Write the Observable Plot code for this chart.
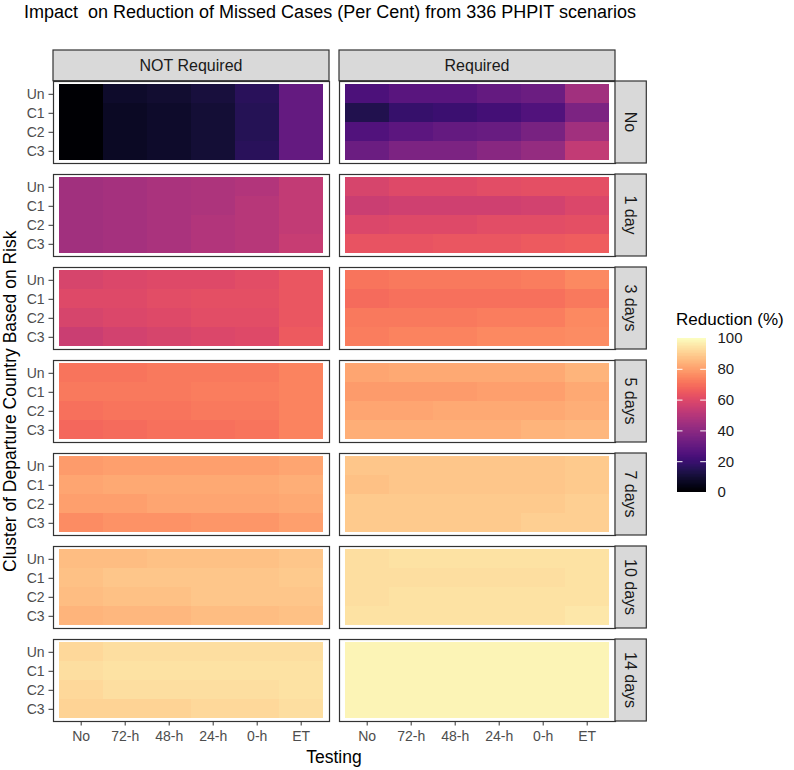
<!DOCTYPE html>
<html>
<head>
<meta charset="utf-8">
<script src="https://cdn.jsdelivr.net/npm/d3@7"></script>
<script src="https://cdn.jsdelivr.net/npm/@observablehq/plot@0.6"></script>
<style>
  html, body { margin: 0; padding: 0; background: #fff; }
  #wrap { position: relative; width: 794px; height: 770px; font-family: "Liberation Sans", Arial, sans-serif; }
  #main, #legend { position: absolute; }
  #main { left: 0; top: 0; }
  #legend { left: 660px; top: 300px; }
</style>
</head>
<body>
<div id="wrap"><div id="main"></div><div id="legend"></div></div>
<script>
// ---- categories ----
const testing = ["No", "72-h", "48-h", "24-h", "0-h", "ET"];
const clusters = ["Un", "C1", "C2", "C3"];
const protocols = ["NOT Required", "Required"];
const quarantine = ["No", "1 day", "3 days", "5 days", "7 days", "10 days", "14 days"];
const legendTicks = [0, 20, 40, 60, 80, 100];

// ---- values (rows = Un, C1, C2, C3; columns = testing) ----
// NOT Required
const notReq_No   = [[0, 8, 9, 11, 16, 30], [0, 7, 8, 10, 15, 30], [0, 7, 8, 10, 15, 30], [0, 7, 8, 10, 16, 30]];
const notReq_1d   = [[45, 46, 47, 48, 49, 53], [45, 46, 47, 48, 50, 53], [45, 46, 47, 49, 50, 53], [45, 46, 47, 49, 50, 54]];
const notReq_3d   = [[58, 59, 60, 60, 61, 64], [60, 60, 61, 62, 62, 64], [58, 59, 60, 61, 61, 64], [55, 57, 58, 59, 60, 65]];
const notReq_5d   = [[71, 71, 72, 72, 72, 74], [72, 72, 72, 73, 73, 74], [70, 71, 71, 72, 72, 74], [68, 69, 70, 70, 71, 74]];
const notReq_7d   = [[79, 80, 80, 80, 80, 81], [81, 82, 82, 82, 82, 83], [80, 80, 81, 81, 81, 82], [76, 77, 77, 78, 78, 80]];
const notReq_10d  = [[86, 86, 87, 87, 87, 88], [87, 88, 88, 88, 88, 89], [86, 87, 87, 88, 88, 88], [84, 85, 85, 86, 86, 87]];
const notReq_14d  = [[92, 93, 93, 93, 93, 93], [93, 94, 94, 94, 94, 94], [92, 93, 93, 93, 93, 94], [91, 91, 91, 92, 92, 93]];
// Required
const req_No      = [[24, 27, 27, 30, 32, 45], [14, 19, 20, 22, 25, 36], [25, 28, 30, 31, 35, 45], [32, 36, 36, 39, 42, 53]];
const req_1d      = [[58, 60, 60, 61, 62, 62], [55, 56, 56, 56, 57, 59], [59, 60, 60, 61, 61, 62], [63, 63, 64, 64, 65, 66]];
const req_3d      = [[71, 72, 72, 72, 73, 75], [69, 70, 70, 70, 70, 72], [72, 72, 72, 73, 73, 75], [73, 74, 74, 75, 75, 76]];
const req_5d      = [[81, 82, 82, 82, 82, 84], [79, 79, 79, 80, 80, 82], [81, 81, 82, 82, 82, 83], [83, 83, 83, 83, 84, 85]];
const req_7d      = [[88, 88, 88, 88, 88, 89], [87, 88, 88, 88, 88, 89], [89, 89, 89, 89, 89, 90], [89, 89, 89, 89, 90, 90]];
const req_10d     = [[93, 94, 94, 94, 94, 94], [93, 93, 93, 93, 93, 94], [93, 94, 94, 94, 94, 94], [94, 94, 94, 94, 94, 95]];
const req_14d     = [[98, 98, 98, 98, 98, 98], [98, 98, 98, 98, 98, 98], [98, 98, 98, 98, 98, 98], [98, 98, 98, 98, 98, 98]];

const panels = {
  "NOT Required": [notReq_No, notReq_1d, notReq_3d, notReq_5d, notReq_7d, notReq_10d, notReq_14d],
  "Required": [req_No, req_1d, req_3d, req_5d, req_7d, req_10d, req_14d]
};

const data = [];
for (const p of protocols) {
  panels[p].forEach((grid, qi) => {
    grid.forEach((row, ci) => {
      row.forEach((v, ti) => {
        data.push({p, q: quarantine[qi], c: clusters[ci], t: testing[ti], v});
      });
    });
  });
}

const FONT = '"Liberation Sans", Arial, sans-serif';
const W = 794, H = 770;
const panelLeft = 52.3, panelRight = 615.7, panelTop = 80.7, panelBottom = 721.7;

const plot = Plot.plot({
  width: W, height: H,
  marginLeft: panelLeft, marginRight: W - panelRight,
  marginTop: panelTop, marginBottom: H - panelBottom,
  style: {fontFamily: FONT, fontSize: "14px", background: "transparent", overflow: "visible"},
  fx: {domain: protocols, paddingInner: 0.035, paddingOuter: 0, axis: null},
  fy: {domain: quarantine, paddingInner: 0.12, paddingOuter: 0, axis: null},
  x: {domain: testing, padding: 0, insetLeft: 4.4, insetRight: 5, label: null},
  y: {domain: clusters, padding: 0, insetTop: 1.3, insetBottom: 1.3, label: null},
  color: {type: "linear", scheme: "magma", domain: [0, 100]},
  marks: [
    Plot.cell(data, {x: "t", y: "c", fx: "p", fy: "q", fill: "v", inset: 0, shapeRendering: "crispEdges"}),
    Plot.frame({stroke: "#333333", strokeWidth: 1.2}),
    Plot.axisX({anchor: "bottom", tickSize: 4.5, tickPadding: 5, fontSize: 14, label: null, color: "#333333"}),
    Plot.axisY({anchor: "left", tickSize: 4.5, tickPadding: 4.4, fontSize: 14, label: null, color: "#333333"})
  ]
});
document.getElementById("main").appendChild(plot);

const svg = d3.select(plot);
svg.selectAll('g[aria-label="x-axis tick label"], g[aria-label="y-axis tick label"]').attr("fill", "#4d4d4d");
svg.selectAll('g[aria-label="x-axis tick label"] text, g[aria-label="y-axis tick label"] text').attr("fill", "#4d4d4d");

// strips using the plot's facet scales
const fx = plot.scale("fx"), fy = plot.scale("fy");
const bwx = fx.bandwidth, bwy = fy.bandwidth;
const stripG = svg.append("g").attr("font-family", FONT);
const stripTop = 50, stripW = 31.3;
for (const p of protocols) {
  const x0 = fx.apply(p);
  stripG.append("rect").attr("x", x0).attr("y", stripTop).attr("width", bwx).attr("height", panelTop - stripTop)
    .attr("fill", "#d9d9d9").attr("stroke", "#333333").attr("stroke-width", 1.2);
  stripG.append("text").attr("x", x0 + bwx / 2).attr("y", (stripTop + panelTop) / 2).attr("dy", "0.36em")
    .attr("text-anchor", "middle").attr("font-size", 16).attr("fill", "#1a1a1a").text(p);
}
const rightX = fx.apply(protocols[protocols.length - 1]) + bwx;
for (const q of quarantine) {
  const y0 = fy.apply(q);
  stripG.append("rect").attr("x", rightX).attr("y", y0).attr("width", stripW).attr("height", bwy)
    .attr("fill", "#d9d9d9").attr("stroke", "#333333").attr("stroke-width", 1.2);
  stripG.append("text").attr("transform", `translate(${rightX + stripW / 2},${y0 + bwy / 2}) rotate(90)`)
    .attr("dy", "0.36em").attr("text-anchor", "middle").attr("font-size", 16).attr("fill", "#1a1a1a").text(q);
}

// titles
svg.append("text").attr("x", 24).attr("y", 18).attr("text-anchor", "start").attr("font-size", 18).attr("font-family", FONT)
  .attr("fill", "#000").style("white-space", "pre")
  .text("Impact  on Reduction of Missed Cases (Per Cent) from 336 PHPIT scenarios");
svg.append("text").attr("x", (panelLeft + panelRight) / 2).attr("y", 763).attr("text-anchor", "middle").attr("font-size", 17.5)
  .attr("font-family", FONT).attr("fill", "#000").text("Testing");
svg.append("text").attr("transform", `translate(16,${(panelTop + panelBottom) / 2}) rotate(-90)`).attr("text-anchor", "middle")
  .attr("font-size", 17.5).attr("font-family", FONT).attr("fill", "#000").text("Cluster of Departure Country Based on Risk");

// ---- legend (colorbar) ----
const stops = d3.range(0, 100, 0.5);
const legend = Plot.plot({
  width: 134, height: 210,
  marginLeft: 16.7, marginRight: 134 - 46, marginTop: 38, marginBottom: 18,
  style: {fontFamily: FONT, fontSize: "15px", background: "transparent", overflow: "visible"},
  x: {domain: [0, 1], axis: null},
  y: {domain: [0, 100], label: null},
  color: {type: "linear", scheme: "magma", domain: [0, 100]},
  marks: [
    Plot.rect(stops, {x1: 0, x2: 1, y1: d => d, y2: d => d + 0.5, fill: d => d + 0.25, shapeRendering: "crispEdges"}),
    Plot.tickY([20, 40, 60, 80], {y: d => d, stroke: "white", strokeWidth: 1, insetRight: 23.5}),
    Plot.tickY([20, 40, 60, 80], {y: d => d, stroke: "white", strokeWidth: 1, insetLeft: 23.5}),
    Plot.axisY(legendTicks, {anchor: "right", tickSize: 0, tickPadding: 11, fontSize: 15, label: null, color: "#1a1a1a"})
  ]
});
document.getElementById("legend").appendChild(legend);
d3.select(legend).append("text").attr("x", 16).attr("y", 25).attr("text-anchor", "start").attr("font-size", 17)
  .attr("font-family", FONT).attr("fill", "#000").text("Reduction (%)");
</script>
</body>
</html>
